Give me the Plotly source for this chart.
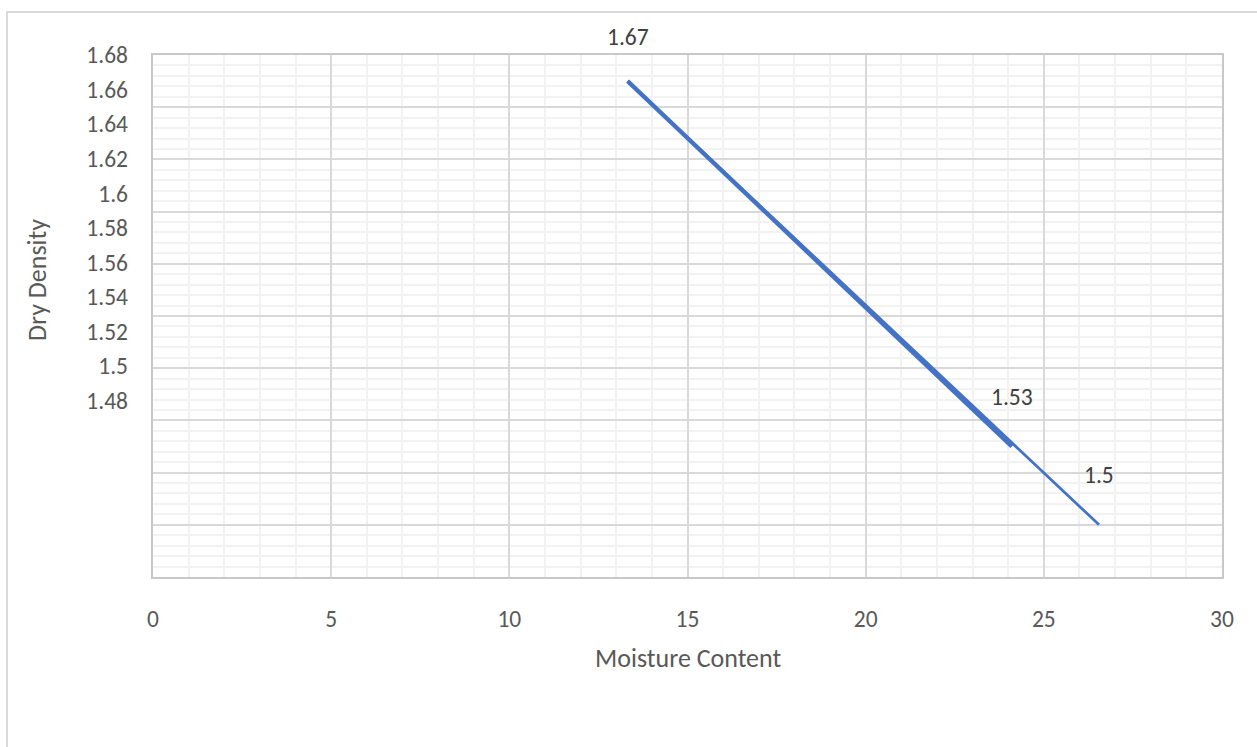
import plotly.graph_objects as go

# Compaction test results
moisture_a = [13.32, 24.1]
density_a = [1.67, 1.53]
moisture_b = [13.32, 26.55]
density_b = [1.67, 1.50]

# Point labels (value, series, index)
point_labels = [("1.67", "a", 0), ("1.53", "a", 1), ("1.5", "b", 1)]
label_shift = [44, 50, 50]

y_tick_vals = [1.48, 1.50, 1.52, 1.54, 1.56, 1.58, 1.60, 1.62, 1.64, 1.66, 1.68]
y_tick_text = ["1.48", "1.5", "1.52", "1.54", "1.56", "1.58", "1.6", "1.62", "1.64", "1.66", "1.68"]
x_tick_vals = [0, 5, 10, 15, 20, 25, 30]

FONT = "Calibri, Carlito, Lato, sans-serif"
BLUE = "#4472C4"
W, H = 1257, 747
L, R, T, B = 153, 1222, 55, 577
TICK_SIZE = 23.5
TITLE_SIZE = 26


def px_x(px):
    return (px - L) / (R - L)


def px_y(py):
    return (B - py) / (B - T)


fig = go.Figure()
fig.add_trace(go.Scatter(x=moisture_b, y=density_b, mode="lines",
                         line=dict(color=BLUE, width=2.75), showlegend=False))
fig.add_trace(go.Scatter(x=moisture_a, y=density_a, mode="lines",
                         line=dict(color=BLUE, width=4.25), showlegend=False))

series = {"a": (moisture_a, density_a), "b": (moisture_b, density_b)}
for (txt, key, idx), shift in zip(point_labels, label_shift):
    xs, ys = series[key]
    fig.add_annotation(x=xs[idx], y=ys[idx], xref="x", yref="y", text=txt,
                       showarrow=False, yshift=shift,
                       xanchor="center", yanchor="middle",
                       font=dict(family=FONT, size=TICK_SIZE, color="#404040"))

# Axis titles
fig.add_annotation(x=px_x(687.5), y=px_y(658), xref="paper", yref="paper",
                   text="Moisture Content", showarrow=False,
                   xanchor="center", yanchor="middle",
                   font=dict(family=FONT, size=TITLE_SIZE, color="#595959"))
fig.add_annotation(x=px_x(37), y=px_y(280), xref="paper", yref="paper",
                   text="Dry Density", showarrow=False, textangle=-90,
                   xanchor="center", yanchor="middle",
                   font=dict(family=FONT, size=TITLE_SIZE, color="#595959"))

# Outer chart border
fig.add_shape(type="rect", xref="paper", yref="paper",
              x0=px_x(7), x1=px_x(1275), y0=px_y(770), y1=px_y(12),
              line=dict(color="#D9D9D9", width=2), fillcolor="rgba(0,0,0,0)",
              layer="below")

fig.update_layout(
    width=W, height=H,
    margin=dict(l=L, r=W - R, t=T, b=H - B),
    paper_bgcolor="white", plot_bgcolor="white",
    font=dict(family=FONT, color="#595959"),
    xaxis=dict(range=[0, 30], tickvals=x_tick_vals, showgrid=True,
               gridcolor="#D9D9D9", gridwidth=1.5,
               minor=dict(dtick=1, showgrid=True, gridcolor="#F2F2F2", gridwidth=1.5),
               showline=True, linecolor="#C8C8C8", linewidth=1.5, mirror=True,
               zeroline=False, ticks="", ticklabelstandoff=20,
               tickfont=dict(family=FONT, size=TICK_SIZE, color="#595959")),
    yaxis=dict(range=[1.48, 1.68], dtick=0.02, tick0=1.48, showgrid=True,
               gridcolor="#D9D9D9", gridwidth=1.5,
               minor=dict(dtick=0.004, showgrid=True, gridcolor="#F2F2F2", gridwidth=1.5),
               showline=True, linecolor="#C8C8C8", linewidth=1.5, mirror=True,
               zeroline=False, showticklabels=False, ticks=""),
    yaxis2=dict(range=[1.378, 1.68], overlaying="y", side="left",
                tickvals=y_tick_vals, ticktext=y_tick_text,
                showgrid=False, zeroline=False, showline=False, ticks="",
                ticklabelstandoff=24,
                tickfont=dict(family=FONT, size=TICK_SIZE, color="#595959")),
)
# Invisible trace so the label axis is rendered
fig.add_trace(go.Scatter(x=[None], y=[None], yaxis="y2", showlegend=False,
                         hoverinfo="skip"))

fig.write_html("out.html")
